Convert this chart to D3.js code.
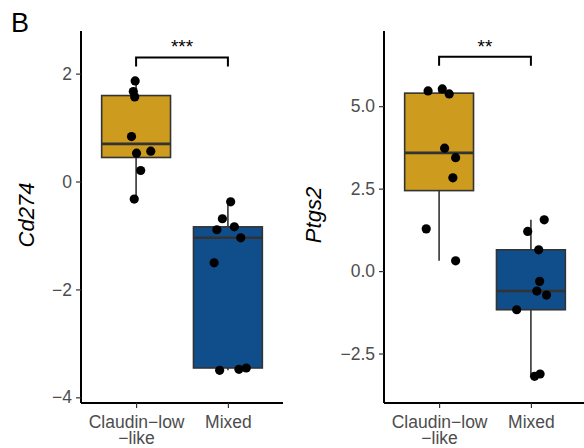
<!DOCTYPE html>
<html>
<head>
<meta charset="utf-8">
<script src="https://cdn.jsdelivr.net/npm/d3@7"></script>
<style>
  body { margin: 0; background: #fff; }
  svg { font-family: "Liberation Sans", Arial, sans-serif; }
</style>
</head>
<body>
<svg width="584" height="448"></svg>
<script>
// groups on the x axis
const groups = ["Claudin\u2212low\n\u2212like", "Mixed"];
const boxColors = ["#CD9B1D", "#104E8B"];

// Cd274 values
const cd274Claudin = [1.865, 1.667, 1.569, 0.833, 0.563, 0.526, 0.204, -0.326];
const cd274Mixed = [-0.376, -0.69, -0.894, -0.84, -1.043, -1.506, -3.5, -3.48, -3.456];
// jitter, as a fraction of one category step
const cd274ClaudinJitter = [-0.01, -0.03, -0.015, -0.05, 0.16, 0.005, 0.05, -0.02];
const cd274MixedJitter = [0.03, -0.06, -0.12, 0.07, 0.14, -0.15, -0.09, 0.12, 0.2];

// Ptgs2 values
const ptgs2Claudin = [5.464, 5.524, 5.373, 3.727, 3.44, 2.827, 1.28, 0.31];
const ptgs2Mixed = [1.555, 1.203, 0.645, -0.312, -0.606, -0.727, -1.172, -3.19, -3.12];
const ptgs2ClaudinJitter = [-0.12, 0.035, 0.11, 0.06, 0.18, 0.15, -0.14, 0.18];
const ptgs2MixedJitter = [0.145, -0.035, 0.085, 0.095, 0.065, 0.17, -0.155, 0.04, 0.1];

const cd274Ticks = [-4, -2, 0, 2];
const ptgs2Ticks = [-2.5, 0, 2.5, 5];

const svg = d3.select("svg");

svg.append("text")
    .attr("x", 11)
    .attr("y", 32)
    .attr("font-size", 27)
    .text("B");

const panels = [
  {
    gene: "Cd274", left: 81, domain: [-4.105, 2.79], ticks: cd274Ticks,
    fmt: d => d3.format("d")(d).replace("-", "\u2212"),
    values: [cd274Claudin, cd274Mixed], jitter: [cd274ClaudinJitter, cd274MixedJitter],
    bracket: [2.30, 2.13], stars: "***", titleX: 34
  },
  {
    gene: "Ptgs2", left: 384, domain: [-4.0, 7.28], ticks: ptgs2Ticks,
    fmt: d => d3.format(".1f")(d).replace("-", "\u2212"),
    values: [ptgs2Claudin, ptgs2Mixed], jitter: [ptgs2ClaudinJitter, ptgs2MixedJitter],
    bracket: [6.50, 6.23], stars: "**", titleX: 321
  }
];

const plotTop = 31, plotBottom = 403, panelWidth = 202;

panels.forEach(p => {
  const g = svg.append("g");

  const x = d3.scalePoint()
      .domain(groups)
      .range([p.left, p.left + panelWidth])
      .padding(0.6);
  const step = x.step();

  const y = d3.scaleLinear()
      .domain(p.domain)
      .range([plotBottom, plotTop]);

  // boxes
  p.values.forEach((vals, i) => {
    const sorted = vals.slice().sort(d3.ascending);
    const q1 = d3.quantile(sorted, 0.25),
          med = d3.quantile(sorted, 0.5),
          q3 = d3.quantile(sorted, 0.75),
          iqr = q3 - q1;
    const lo = d3.min(sorted.filter(v => v >= q1 - 1.5 * iqr)),
          hi = d3.max(sorted.filter(v => v <= q3 + 1.5 * iqr));
    const cx = x(groups[i]), bw = step * 0.75;

    g.append("line")
        .attr("x1", cx).attr("x2", cx)
        .attr("y1", y(lo)).attr("y2", y(hi))
        .attr("stroke", "#333")
        .attr("stroke-width", 1.6);

    g.append("rect")
        .attr("x", cx - bw / 2)
        .attr("width", bw)
        .attr("y", y(q3))
        .attr("height", y(q1) - y(q3))
        .attr("fill", boxColors[i])
        .attr("stroke", "#333")
        .attr("stroke-width", 1.6);

    g.append("line")
        .attr("x1", cx - bw / 2).attr("x2", cx + bw / 2)
        .attr("y1", y(med)).attr("y2", y(med))
        .attr("stroke", "#333")
        .attr("stroke-width", 2.6);
  });

  // points
  p.values.forEach((vals, i) => {
    g.append("g")
      .selectAll("circle")
      .data(vals)
      .join("circle")
        .attr("cx", (d, j) => x(groups[i]) + p.jitter[i][j] * step)
        .attr("cy", d => y(d))
        .attr("r", 4.6)
        .attr("fill", "#000");
  });

  // axes
  const yAxis = g.append("g")
      .attr("transform", `translate(${p.left},0)`)
      .call(d3.axisLeft(y).tickValues(p.ticks).tickFormat(p.fmt).tickSize(5).tickPadding(4));
  const xAxis = g.append("g")
      .attr("transform", `translate(0,${plotBottom})`)
      .call(d3.axisBottom(x).tickSize(5).tickPadding(4).tickFormat(""));

  [yAxis, xAxis].forEach(a => {
    a.select(".domain").attr("stroke", "#000").attr("stroke-width", 2);
    a.selectAll(".tick line").attr("stroke", "#333").attr("stroke-width", 1.2);
    a.selectAll("text").attr("font-size", 17.5).attr("fill", "#4D4D4D")
        .attr("font-family", "Liberation Sans, Arial, sans-serif");
  });
  yAxis.select(".domain").attr("d", `M0,${plotTop}V${plotBottom}`);
  xAxis.select(".domain").attr("d", `M${p.left},0H${p.left + panelWidth}`);

  // multi-line x labels
  xAxis.selectAll(".tick").each(function(d) {
    const t = d3.select(this).append("text")
        .attr("fill", "#4D4D4D")
        .attr("font-size", 17.5)
        .attr("text-anchor", "middle");
    d.split("\n").forEach((line, k) => {
      t.append("tspan").attr("x", 0).attr("y", 25 + k * 16).text(line);
    });
  });

  // axis title
  g.append("text")
      .attr("transform", `translate(${p.titleX},215) rotate(-90)`)
      .attr("text-anchor", "middle")
      .attr("font-size", 22)
      .attr("font-style", "italic")
      .text(p.gene);

  // significance bracket
  const x1 = x(groups[0]), x2 = x(groups[1]);
  g.append("path")
      .attr("d", `M${x1},${y(p.bracket[1])}V${y(p.bracket[0])}H${x2}V${y(p.bracket[1])}`)
      .attr("fill", "none")
      .attr("stroke", "#000")
      .attr("stroke-width", 2);
  g.append("text")
      .attr("x", (x1 + x2) / 2)
      .attr("y", y(p.bracket[0]) - 4)
      .attr("text-anchor", "middle")
      .attr("font-size", 19)
      .text(p.stars);
});
</script>
</body>
</html>
